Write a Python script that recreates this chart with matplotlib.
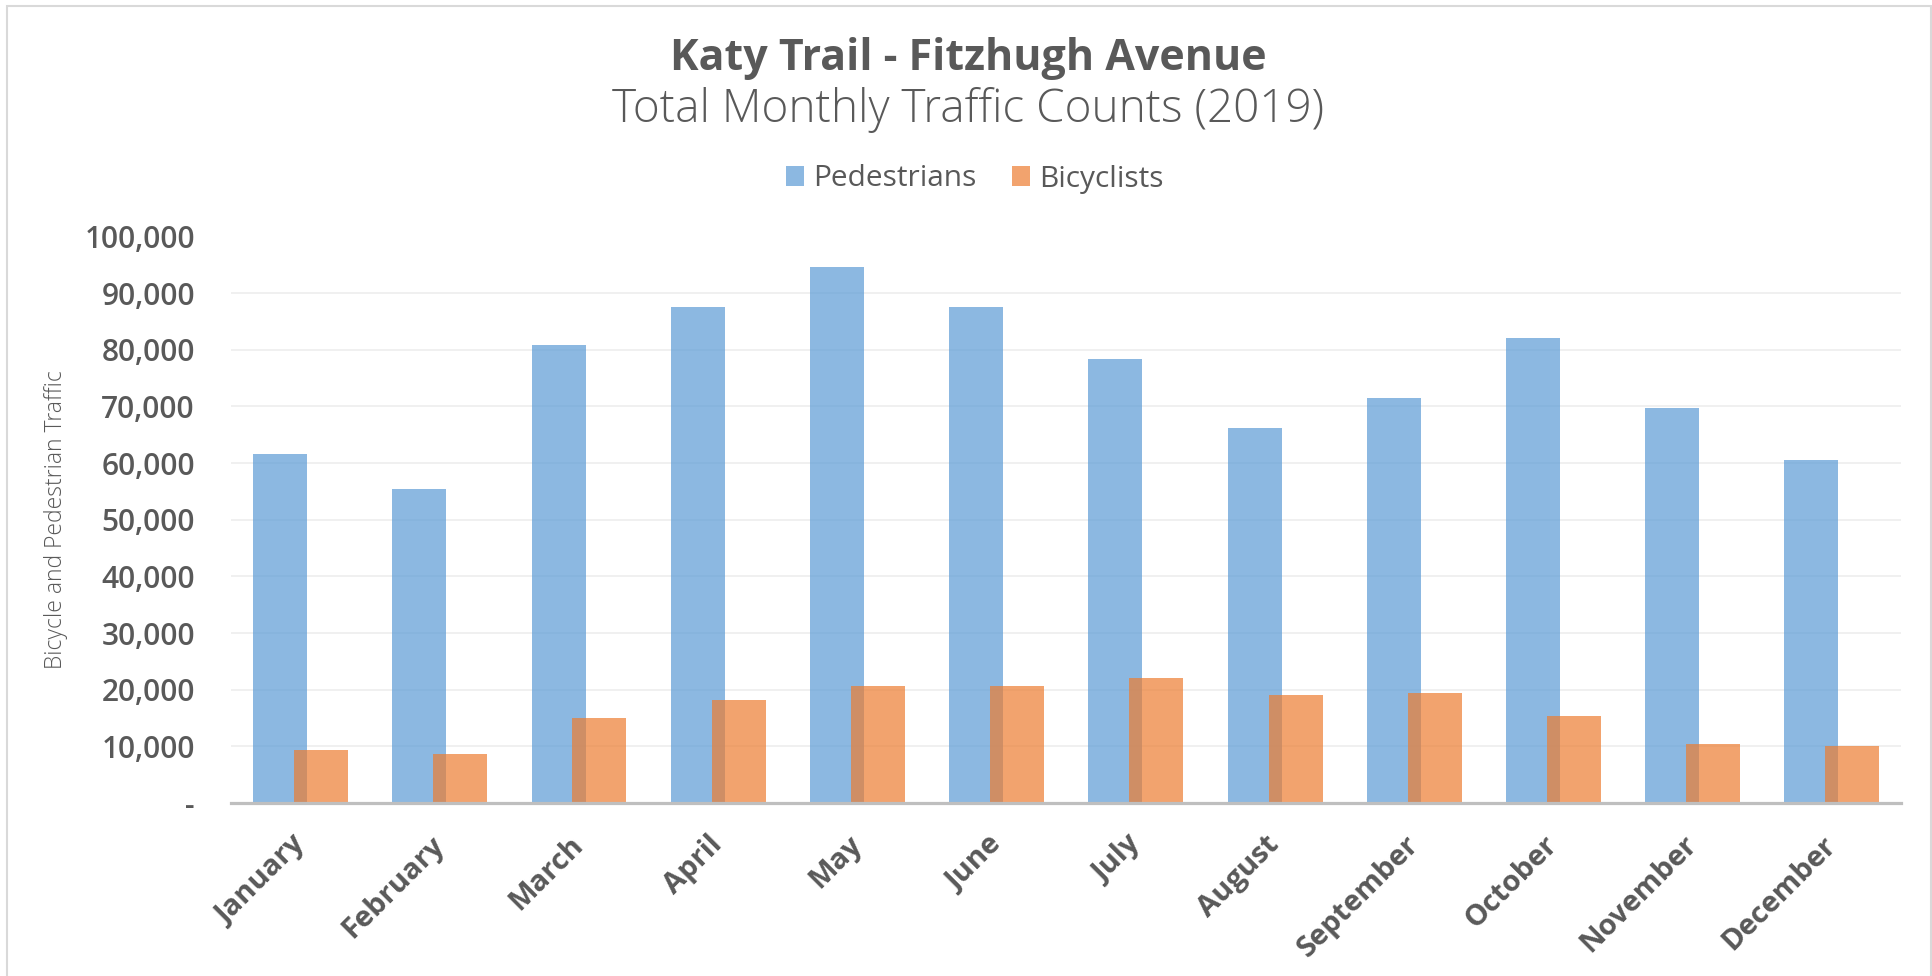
import matplotlib
matplotlib.use("Agg")
import matplotlib.pyplot as plt
import matplotlib.transforms as mtransforms
from matplotlib.patches import Patch, Rectangle
from matplotlib.ticker import FuncFormatter, MultipleLocator
import numpy as np

months = ["January", "February", "March", "April", "May", "June", "July",
          "August", "September", "October", "November", "December"]
pedestrians = [61600, 55400, 80900, 87600, 94700, 87600, 78400, 66200, 71500, 82100, 69700, 60600]
bicyclists = [9300, 8700, 15000, 18200, 20600, 20600, 22100, 19100, 19400, 15400, 10500, 10100]

title = "Katy Trail - Fitzhugh Avenue"
subtitle = "Total Monthly Traffic Counts (2019)"
ylabel = "Bicycle and Pedestrian Traffic"
series_names = ["Pedestrians", "Bicyclists"]

TEXT = "#595959"
BLUE = "#5B9BD5"
ORANGE = "#ED7D31"
FONT = ["Open Sans", "DejaVu Sans"]
plt.rcParams["font.family"] = FONT

W, H = 1933, 976
fig = plt.figure(figsize=(W / 100, H / 100), dpi=100)
fig.patch.set_facecolor("white")

# chart-area border
fig.add_artist(Rectangle((7 / W, -0.01), (1931 - 7) / W, 1 - 6 / H + 0.01,
                         transform=fig.transFigure, fill=False,
                         edgecolor="#D9D9D9", linewidth=1.5))

left, right = 231 / W, 1901.5 / W
bottom, top = 1 - 803 / H, 1 - 236.5 / H
ax = fig.add_axes([left, bottom, right - left, top - bottom])

x = np.arange(len(months))
bw = 0.388
off = 0.147
ax.bar(x - off, pedestrians, bw, color=BLUE, alpha=0.7, linewidth=0, zorder=2)
ax.bar(x + off, bicyclists, bw, color=ORANGE, alpha=0.7, linewidth=0, zorder=3)

ax.set_xlim(-0.5, len(months) - 0.5)
ax.set_ylim(0, 100000)
ax.yaxis.set_major_locator(MultipleLocator(10000))
ax.yaxis.set_major_formatter(FuncFormatter(lambda v, p: f"{int(round(v)):,}" if v > 0 else "-"))
ax.grid(axis="y", color="#EFEFEF", linewidth=1.3, zorder=0)
ax.set_axisbelow(True)

for s in ["left", "right", "top"]:
    ax.spines[s].set_visible(False)
ax.spines["bottom"].set_color("#BFBFBF")
ax.spines["bottom"].set_linewidth(2.3)
ax.spines["bottom"].set_zorder(5)

ax.set_xticks(x)
ax.set_xticklabels(months, rotation=45, ha="right", va="center", rotation_mode="anchor",
                   fontsize=21, fontweight="bold", color=TEXT)
ax.tick_params(axis="x", length=0, pad=27)
ax.tick_params(axis="y", length=0, pad=26, labelsize=21.5, labelcolor=TEXT)
for lab in ax.get_yticklabels():
    lab.set_fontweight("semibold")

# shift the "-" zero label left (accounting style)
t0 = ax.yaxis.get_major_ticks()[0].label1
t0.set_transform(t0.get_transform() + mtransforms.ScaledTranslation(-21 / 100, 0, fig.dpi_scale_trans))

fig.text(56 / W, 1 - 520 / H, ylabel, rotation=90, ha="center", va="center",
         fontsize=16.5, color=TEXT, fontweight="light")

fig.text(968 / W, 1 - 70 / H, title, ha="center", va="baseline",
         fontsize=31, fontweight="bold", color=TEXT)
fig.text(968 / W, 1 - 121.5 / H, subtitle, ha="center", va="baseline",
         fontsize=33, fontweight="light", color=TEXT)

handles = [Patch(facecolor=BLUE, alpha=0.7, edgecolor="none"),
           Patch(facecolor=ORANGE, alpha=0.7, edgecolor="none")]
fig.legend(handles, series_names, loc="center", bbox_to_anchor=(975 / W, 1 - 179 / H),
           ncol=2, frameon=False, fontsize=21.5, labelcolor=TEXT,
           handlelength=0.6, handleheight=0.62, handletextpad=0.3, columnspacing=1.2)

fig.savefig("out.png", dpi=100, facecolor="white")
